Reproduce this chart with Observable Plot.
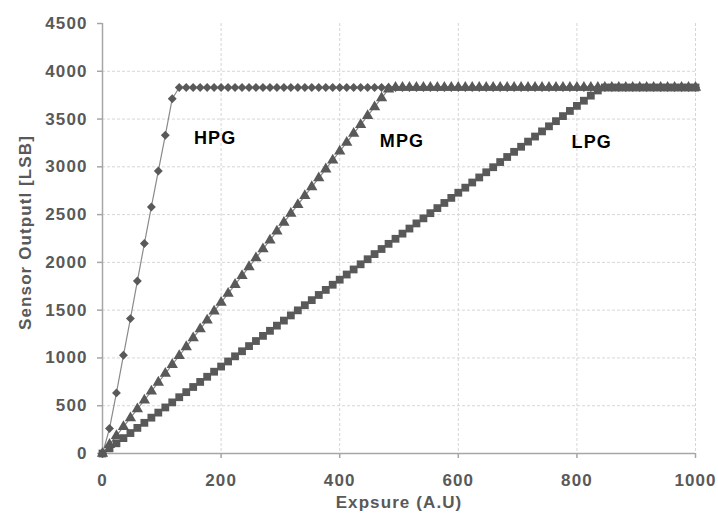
<!DOCTYPE html>
<html>
<head>
<meta charset="utf-8">
<script src="https://cdn.jsdelivr.net/npm/d3@7"></script>
<script src="https://cdn.jsdelivr.net/npm/@observablehq/plot@0.6"></script>
<style>
  html, body { margin: 0; padding: 0; background: #ffffff; }
  #chart svg text { letter-spacing: 1.1px; }
</style>
</head>
<body>
<div id="chart"></div>
<script>
// Exposure (A.U) at each sample
const exposure = [0, 11.8, 23.5, 35.3, 47.1, 58.8, 70.6, 82.4, 94.1, 105.9, 117.6, 129.4, 141.2, 152.9, 164.7, 176.5, 188.2, 200,
  211.8, 223.5, 235.3, 247.1, 258.8, 270.6, 282.4, 294.1, 305.9, 317.6, 329.4, 341.2, 352.9, 364.7, 376.5, 388.2, 400,
  411.8, 423.5, 435.3, 447.1, 458.8, 470.6, 482.4, 494.1, 505.9, 517.6, 529.4, 541.2, 552.9, 564.7, 576.5, 588.2, 600,
  611.8, 623.5, 635.3, 647.1, 658.8, 670.6, 682.4, 694.1, 705.9, 717.6, 729.4, 741.2, 752.9, 764.7, 776.5, 788.2, 800,
  811.8, 823.5, 835.3, 847.1, 858.8, 870.6, 882.4, 894.1, 905.9, 917.6, 929.4, 941.2, 952.9, 964.7, 976.5, 988.2, 1000];

// Sensor output [LSB] per series
const hpg = [0, 261, 634, 1028, 1412, 1805, 2197, 2580, 2956, 3330, 3713,
  3830, 3830, 3830, 3830, 3830, 3830, 3830, 3830, 3830, 3830, 3830, 3830, 3830, 3830, 3830,
  3830, 3830, 3830, 3830, 3830, 3830, 3830, 3830, 3830, 3830, 3830, 3830, 3830, 3830, 3830,
  3830, 3830, 3830, 3830, 3830, 3830, 3830, 3830, 3830, 3830, 3830, 3830, 3830, 3830, 3830,
  3830, 3830, 3830, 3830, 3830, 3830, 3830, 3830, 3830, 3830, 3830, 3830, 3830, 3830, 3830,
  3830, 3830, 3830, 3830, 3830, 3830, 3830, 3830, 3830, 3830, 3830, 3830, 3830, 3830, 3830];

const mpg = [0, 93, 186, 279, 372, 465, 558, 651, 744, 837, 930, 1023, 1116, 1209, 1302, 1395, 1488, 1581,
  1674, 1767, 1860, 1953, 2046, 2139, 2232, 2325, 2418, 2511, 2604, 2697, 2790, 2883, 2976, 3069,
  3162, 3255, 3348, 3441, 3534, 3627, 3720, 3813,
  3830, 3830, 3830, 3830, 3830, 3830, 3830, 3830, 3830, 3830, 3830, 3830, 3830, 3830, 3830,
  3830, 3830, 3830, 3830, 3830, 3830, 3830, 3830, 3830, 3830, 3830, 3830, 3830, 3830, 3830,
  3830, 3830, 3830, 3830, 3830, 3830, 3830, 3830, 3830, 3830, 3830, 3830, 3830, 3830];

const lpg = [0, 54, 107, 161, 214, 268, 321, 375, 428, 482, 535, 589, 642, 696, 749, 803, 856, 910,
  963, 1017, 1070, 1124, 1177, 1231, 1284, 1338, 1391, 1445, 1498, 1552, 1605, 1659, 1712, 1766,
  1819, 1873, 1926, 1980, 2033, 2087, 2140, 2194, 2247, 2301, 2354, 2408, 2461, 2515, 2568, 2622,
  2675, 2729, 2782, 2836, 2889, 2943, 2996, 3050, 3103, 3157, 3210, 3264, 3317, 3371, 3424, 3478,
  3531, 3585, 3638, 3692, 3745, 3799,
  3830, 3830, 3830, 3830, 3830, 3830, 3830, 3830, 3830, 3830, 3830, 3830, 3830, 3830];

const seriesNames = ["HPG", "MPG", "LPG"];
const labelX = [190, 505, 825];
const labelY = [3295, 3270, 3260];

const xTicks = [0, 200, 400, 600, 800, 1000];
const yTicks = [0, 500, 1000, 1500, 2000, 2500, 3000, 3500, 4000, 4500];
const xTitle = "Expsure (A.U)";
const yTitle = "Sensor Outputl [LSB]";

const markerColor = "#595959";
const axisColor = "#a6a6a6";
const textColor = "#595959";

const chart = Plot.plot({
  width: 718,
  height: 515,
  marginLeft: 102,
  marginRight: 23,
  marginTop: 23,
  marginBottom: 62,
  x: {domain: [0, 1000]},
  y: {domain: [0, 4500]},
  style: {
    fontFamily: "'Liberation Sans', Arial, sans-serif",
    fontSize: "17px",
    fontWeight: "bold",
    background: "#ffffff",
    overflow: "visible"
  },
  marks: [
    Plot.gridX(xTicks.filter(d => d > 0), {stroke: "#d6d6d6", strokeOpacity: 1, strokeDasharray: "3,2"}),
    Plot.gridY(yTicks.filter(d => d > 0 && d < 4500), {stroke: "#d6d6d6", strokeOpacity: 1, strokeDasharray: "3,2"}),
    Plot.ruleX([0], {stroke: axisColor, strokeWidth: 1.5}),
    Plot.ruleY([0], {stroke: axisColor, strokeWidth: 1.5}),
    Plot.axisX(xTicks, {tickSize: 5, tickPadding: 15, tickFormat: d => String(d), stroke: axisColor, strokeWidth: 1.5, fill: textColor, label: null}),
    Plot.axisY(yTicks, {tickSize: 5, tickPadding: 10, tickFormat: d => String(d), stroke: axisColor, strokeWidth: 1.5, fill: textColor, label: null}),
    Plot.line(exposure, {x: exposure, y: hpg, stroke: "#8a8a8a", strokeWidth: 1.2}),
    Plot.line(exposure, {x: exposure, y: mpg, stroke: "#8a8a8a", strokeWidth: 1.2}),
    Plot.line(exposure, {x: exposure, y: lpg, stroke: "#8a8a8a", strokeWidth: 1.2}),
    Plot.dot(exposure, {x: exposure, y: hpg, symbol: "diamond2", r: 4, fill: markerColor, stroke: "none"}),
    Plot.dot(exposure, {x: exposure, y: mpg, symbol: "triangle", r: 4.2, fill: markerColor, stroke: "none"}),
    Plot.dot(exposure, {x: exposure, y: lpg, symbol: "square", r: 4.4, fill: markerColor, stroke: "none"}),
    Plot.text([xTitle], {frameAnchor: "bottom", dy: 49, lineAnchor: "middle", textAnchor: "middle", fill: textColor, fontSize: 17}),
    Plot.text([yTitle], {frameAnchor: "left", dx: -77, dy: -6, rotate: -90, lineAnchor: "middle", textAnchor: "middle", fill: textColor, fontSize: 17}),
    Plot.text(seriesNames, {x: labelX, y: labelY, fill: "#000000", fontSize: 18})
  ]
});

document.getElementById("chart").appendChild(chart);
</script>
</body>
</html>
